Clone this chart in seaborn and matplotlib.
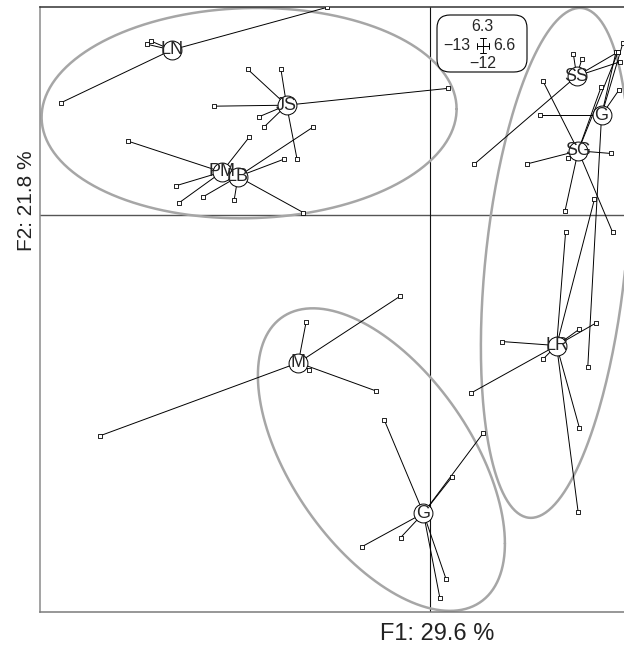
import numpy as np
import pandas as pd
import matplotlib
matplotlib.use("Agg")
import matplotlib.pyplot as plt
import seaborn as sns
from matplotlib.patches import FancyBboxPatch
from matplotlib.transforms import IdentityTransform
from matplotlib.lines import Line2D

# ---------------- data ----------------
group_labels = ["LN", "JS", "PM", "LB", "SS", "G", "SG", "LR", "M", "G"]
centroid_x = [-8.61, -4.78, -6.94, -6.40, 4.89, 5.72, 4.94, 4.22, -4.39, -0.22]
centroid_y = [5.00, 3.33, 1.31, 1.17, 4.21, 3.03, 1.95, -3.94, -4.46, -9.01]

pt_group = ([0] * 4 + [1] * 7 + [2] * 4 + [3] * 5 + [4] * 5 + [5] * 5 +
            [6] * 8 + [7] * 9 + [8] * 5 + [9] * 7)
pt_x = [-3.43, -12.31, -9.30, -9.42,
        -6.08, -4.97, -7.20, 0.61, -5.70, -5.52, -4.43,
        -10.06, -6.02, -8.48, -8.36,
        -3.91, -4.86, -7.58, -6.53, -4.22,
        4.78, 5.06, 1.48, 6.27, 6.33,
        3.67, 6.43, 6.30, 5.26, 6.20,
        3.76, 6.09, 3.22, 6.03, 4.50, 4.61, 5.70, 6.27,
        2.41, 1.36, 3.76, 4.97, 5.53, 4.98, 4.94, 5.48, 4.52,
        -4.13, -1.00, -4.02, -1.81, -11.00,
        -1.53, 1.78, 0.72, -2.26, -0.98, 0.53, 0.33]
pt_y = [6.29, 3.40, 5.27, 5.17,
        4.42, 4.42, 3.30, 3.84, 2.98, 2.68, 1.69,
        2.24, 2.37, 0.89, 0.38,
        2.66, 1.70, 0.55, 0.45, 0.08,
        4.87, 4.72, 1.55, 4.94, 4.64,
        3.03, 5.21, 3.79, -4.58, 4.94,
        4.07, -0.52, 1.55, 1.87, 0.13, 1.72, 3.87, 4.94,
        -3.82, -5.38, -4.36, -3.45, -3.26, -6.43, -8.99, 0.48, -0.51,
        -3.23, -2.45, -4.67, -5.31, -6.67,
        -6.18, -6.58, -7.93, -10.02, -9.75, -10.99, -11.58]

# ellipses: centre and (co)variance terms
ell_cx = [-6.03, 4.18, -1.62]
ell_cy = [3.09, -1.44, -7.39]
ell_vx = [47.84, 6.17, 16.95]
ell_vy = [10.12, 59.48, 20.94]
ell_cxy = [0.85, 6.30, -10.45]

x_axis_label = "F1: 29.6 %"
y_axis_label = "F2: 21.8 %"
scale_top, scale_left, scale_right, scale_bottom = "6.3", "\u221213", "6.6", "\u221212"

# ---------------- figure ----------------
sns.set_style("white")
plt.rcParams['font.family'] = ['Liberation Sans', 'DejaVu Sans']

W, H = 624, 647
fig = plt.figure(figsize=(W / 100, H / 100), dpi=100)
ax = fig.add_axes([40 / W, 35 / H, 588 / W, 605 / H])
ax.set_xlim(-13, 6.6)
ax.set_ylim(-12, 6.3)

ax.axhline(0, color="#555555", lw=1.0, zorder=0.5)
ax.axvline(0, color="#111111", lw=0.8, zorder=0.5)

# ellipses
t = np.linspace(0, 2 * np.pi, 300)
for cx, cy, vx, vy, cxy in zip(ell_cx, ell_cy, ell_vx, ell_vy, ell_cxy):
    L = np.linalg.cholesky(np.array([[vx, cxy], [cxy, vy]]))
    pts = L @ np.vstack([np.cos(t), np.sin(t)])
    ax.plot(cx + pts[0], cy + pts[1], color="#a6a6a6", lw=1.8, zorder=1)

df = pd.DataFrame({"g": pt_group, "x": pt_x, "y": pt_y})
df["cx"] = [centroid_x[g] for g in df["g"]]
df["cy"] = [centroid_y[g] for g in df["g"]]

# stars
for _, r in df.iterrows():
    ax.plot([r.cx, r.x], [r.cy, r.y], color="black", lw=0.7, zorder=2)

sns.scatterplot(data=df, x="x", y="y", marker="s", s=7, color="white",
                edgecolor="black", linewidth=0.6, ax=ax, zorder=3, legend=False)

cdf = pd.DataFrame({"x": centroid_x, "y": centroid_y, "lab": group_labels})
sns.scatterplot(data=cdf, x="x", y="y", marker="o", s=185, color="white",
                edgecolor="black", linewidth=0.7, ax=ax, zorder=4, legend=False)
for _, r in cdf.iterrows():
    ax.text(r.x, r.y, r.lab, ha="center", va="center", fontsize=13, zorder=5)

ax.set_xticks([])
ax.set_yticks([])
ax.set_xlabel("")
ax.set_ylabel("")
for side, col in [("left", "#8a8a8a"), ("bottom", "#7a7a7a"), ("top", "#333333"), ("right", "#333333")]:
    ax.spines[side].set_color(col)
    ax.spines[side].set_linewidth(1.1)

# axis titles
fig.text(437 / W, 1 - 634 / H, x_axis_label, ha="center", va="center",
         fontsize=17, color="#222222", zorder=10)
fig.text(27 / W, 1 - 201 / H, y_axis_label, ha="center", va="center",
         rotation=90, fontsize=15, color="#222222", zorder=10)

# scale box (pixel coords)
idt = IdentityTransform()
box = FancyBboxPatch((437, H - 72), 90, 57, boxstyle="round,pad=0,rounding_size=13",
                     transform=idt, facecolor="white", edgecolor="black", lw=0.8, zorder=6)
fig.patches.append(box)
fig.text(482.5 / W, 1 - 26.5 / H, scale_top, ha="center", va="center", fontsize=11.5, zorder=10)
fig.text(470 / W, 1 - 46 / H, scale_left, ha="right", va="center", fontsize=11.5, zorder=10)
fig.text(493 / W, 1 - 46 / H, scale_right, ha="left", va="center", fontsize=11.5, zorder=10)
fig.text(482.5 / W, 1 - 63.3 / H, scale_bottom, ha="center", va="center", fontsize=11.5, zorder=10)
segs = [((482.5, 38), (482.5, 53)), ((479.5, 38), (485.5, 38)), ((479.5, 53), (485.5, 53)),
        ((476.5, 45.5), (488.5, 45.5)), ((476.5, 42.5), (476.5, 48.5)), ((488.5, 42.5), (488.5, 48.5))]
for (x0, y0), (x1, y1) in segs:
    ln = Line2D([x0, x1], [H - y0, H - y1], transform=idt, color="black", lw=0.7, zorder=10)
    fig.lines.append(ln)

fig.savefig("out.png", dpi=100)
